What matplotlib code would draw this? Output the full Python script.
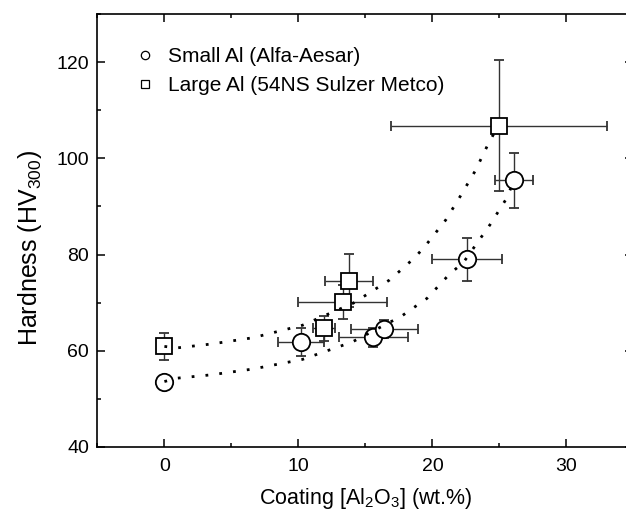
import matplotlib
matplotlib.use("Agg")
import matplotlib.pyplot as plt
from matplotlib.ticker import MultipleLocator
from matplotlib.lines import Line2D

plt.rcParams['font.family'] = ['Liberation Sans', 'DejaVu Sans']
plt.rcParams['mathtext.fontset'] = 'custom'
plt.rcParams['mathtext.rm'] = 'Liberation Sans'
plt.rcParams['mathtext.it'] = 'Liberation Sans:italic'

# Small Al (Alfa-Aesar)
small_x = [0.0, 10.2, 15.6, 16.4, 22.6, 26.1]
small_y = [53.6, 61.8, 62.8, 64.5, 79.0, 95.4]
small_xerr = [0.0, 1.7, 2.6, 2.5, 2.6, 1.4]
small_yerr = [0.0, 2.9, 2.0, 1.9, 4.5, 5.8]

# Large Al (54NS Sulzer Metco)
large_x = [0.0, 11.9, 13.3, 13.75, 24.95]
large_y = [60.9, 64.7, 70.2, 74.6, 106.8]
large_xerr = [0.0, 0.8, 3.3, 1.8, 8.05]
large_yerr = [2.8, 2.6, 3.5, 5.6, 13.6]

# dotted fit curves
fit_small_x = [0.0, 0.95, 3.5, 6.6, 10.3, 14.0, 17.7, 19.6, 21.3, 22.3, 24.3, 25.5, 26.1]
fit_small_y = [53.6, 54.3, 55.0, 56.2, 58.2, 61.8, 67.2, 70.9, 76.0, 78.3, 86.2, 91.5, 95.4]
fit_large_x = [0.0, 0.95, 3.5, 6.6, 10.3, 14.1, 16.8, 17.7, 18.7, 19.5, 21.0, 22.1, 23.2, 24.1, 24.6, 24.95]
fit_large_y = [60.9, 60.6, 61.4, 62.7, 65.3, 69.9, 74.7, 76.9, 79.4, 81.9, 87.2, 92.2, 97.4, 102.6, 105.2, 106.8]

legend_labels = ['Small Al (Alfa-Aesar)', 'Large Al (54NS Sulzer Metco)']

fig = plt.figure(figsize=(6.26, 5.12), dpi=100)
ax = fig.add_axes([0.1556, 0.127, 0.8562, 0.8457])

dot = (0, (1, 4))
ax.plot(fit_small_x, fit_small_y, color='black', lw=2.0, linestyle=dot, zorder=4)
ax.plot(fit_large_x, fit_large_y, color='black', lw=2.0, linestyle=dot, zorder=4)

ekw = dict(ecolor='#333333', elinewidth=1.0, capsize=3.5, capthick=1.0, linestyle='none')
ax.errorbar(small_x, small_y, xerr=small_xerr, yerr=small_yerr, marker='o', ms=12.5,
            mfc='white', mec='black', mew=1.3, zorder=3, **ekw)
ax.errorbar(large_x, large_y, xerr=large_xerr, yerr=large_yerr, marker='s', ms=11,
            mfc='white', mec='black', mew=1.3, zorder=3, **ekw)

handles = [Line2D([], [], marker='o', ms=6, mfc='white', mec='black', mew=0.9, ls='none'),
           Line2D([], [], marker='s', ms=5.5, mfc='white', mec='black', mew=0.9, ls='none')]
ax.legend(handles, legend_labels, loc='upper left', bbox_to_anchor=(0.054, 0.942),
          frameon=False, fontsize=15, handletextpad=0.6, labelspacing=0.45,
          borderaxespad=0.0, borderpad=0.4, handlelength=1.0)

ax.set_xlim(-5, 35)
ax.set_ylim(40, 130)
ax.xaxis.set_major_locator(MultipleLocator(10))
ax.xaxis.set_minor_locator(MultipleLocator(5))
ax.yaxis.set_major_locator(MultipleLocator(20))
ax.yaxis.set_minor_locator(MultipleLocator(10))
ax.tick_params(which='both', direction='in', top=True, right=True, width=1.1, labelsize=14)
ax.tick_params(which='major', length=6)
ax.tick_params(which='minor', length=3)
ax.tick_params(axis='x', which='major', pad=8)
ax.tick_params(axis='y', which='major', pad=6)
for s in ax.spines.values():
    s.set_linewidth(1.2)

ax.set_xlabel('Coating [Al$_2$O$_3$] (wt.%)', fontsize=15.5, labelpad=8)
ax.set_ylabel('Hardness (HV$_{300}$)', fontsize=18)
ax.yaxis.set_label_coords(-0.1, 0.46)

fig.savefig('out.png', dpi=100)
